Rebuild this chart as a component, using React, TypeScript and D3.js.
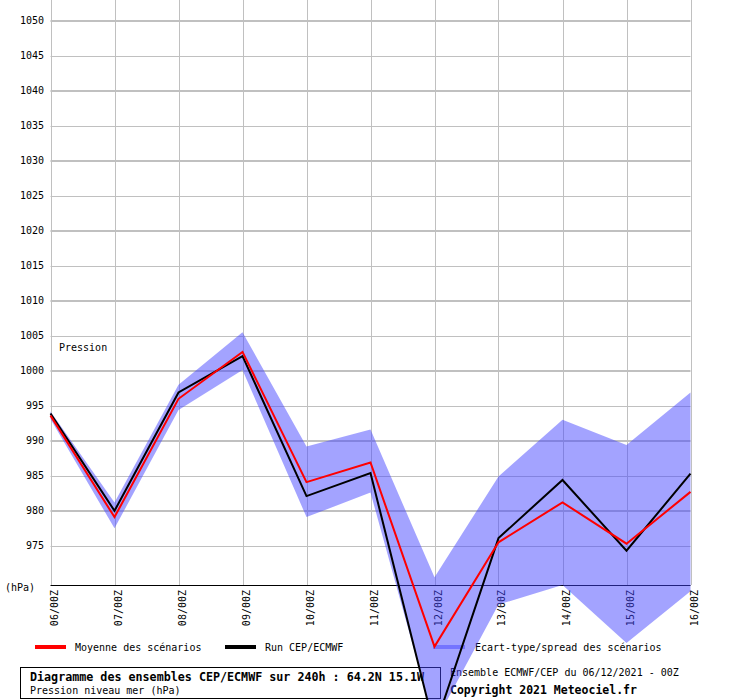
import React from "react";
import * as d3 from "d3";

const days = ["06/00Z", "07/00Z", "08/00Z", "09/00Z", "10/00Z", "11/00Z", "12/00Z", "13/00Z", "14/00Z", "15/00Z", "16/00Z"];
const meanValues = [993.6, 979.1, 996.0, 1002.7, 984.1, 986.9, 960.6, 975.5, 981.2, 975.3, 982.7];
const runValues = [993.9, 980.0, 996.9, 1002.1, 982.1, 985.4, 948.9, 976.1, 984.4, 974.3, 985.3];
const spreadUpper = [994.2, 981.2, 998.0, 1005.5, 989.2, 991.6, 970.5, 984.9, 993.0, 989.4, 996.9];
const spreadLower = [993.1, 977.5, 994.4, 1000.1, 979.1, 982.6, 949.6, 966.6, 969.4, 961.1, 968.5];
const yTicks = [975, 980, 985, 990, 995, 1000, 1005, 1010, 1015, 1020, 1025, 1030, 1035, 1040, 1045, 1050];

const FONT = "'DejaVu Sans Mono', 'Liberation Mono', monospace";

export default function App() {
  const x = d3.scaleLinear().domain([0, days.length - 1]).range([50.5, 690.5]);
  const y = d3.scaleLinear().domain([969.4, 1050]).range([585, 20.8]);
  const idx = days.map((_, i) => i);

  const lineGen = d3
    .line<number>()
    .x((_, i) => x(i))
    .y((d) => y(d));
  const areaGen = d3
    .area<number>()
    .x((i) => x(i))
    .y0((i) => y(spreadLower[i]))
    .y1((i) => y(spreadUpper[i]));

  return (
    <svg
      width={740}
      height={700}
      style={{ position: "absolute", left: 0, top: 0, background: "#fff" }}
      fontFamily={FONT}
    >
      <rect x={0} y={0} width={740} height={700} fill="#fff" />
      {/* horizontal grid */}
      {yTicks.map((v) => (
        <line
          key={"h" + v}
          x1={x(0)}
          x2={x(days.length - 1)}
          y1={Math.round(y(v)) + (v % 10 === 0 ? 0 : 0.5)}
          y2={Math.round(y(v)) + (v % 10 === 0 ? 0 : 0.5)}
          stroke="#c0c0c0"
          strokeWidth={v % 10 === 0 ? 2 : 1}
        />
      ))}
      {/* vertical grid */}
      {idx.map((i) => (
        <line
          key={"v" + i}
          x1={Math.round(x(i)) + 0.5}
          x2={Math.round(x(i)) + 0.5}
          y1={0}
          y2={585}
          stroke="#c0c0c0"
          strokeWidth={1}
        />
      ))}
      {/* axis */}
      <line x1={x(0)} x2={x(days.length - 1)} y1={585.5} y2={585.5} stroke="#000" strokeWidth={1} />
      {/* y labels */}
      {yTicks.map((v) => (
        <text key={"t" + v} x={44} y={y(v) + 3.5} fontSize={10} textAnchor="end" fill="#000">
          {v}
        </text>
      ))}
      <text x={5} y={591} fontSize={10} fill="#000">(hPa)</text>
      <text x={59} y={351} fontSize={10} fill="#000">Pression</text>
      {/* x labels */}
      {days.map((d, i) => (
        <text
          key={"x" + d}
          transform={`translate(${Math.round(x(i)) + 7},590) rotate(-90)`}
          fontSize={10}
          textAnchor="end"
          fill="#000"
        >
          {d}
        </text>
      ))}
      {/* legend */}
      <line x1={35} x2={66} y1={647} y2={647} stroke="#ff0000" strokeWidth={4} />
      <text x={75} y={651} fontSize={10} fill="#000">Moyenne des scénarios</text>
      <line x1={225} x2={256} y1={647} y2={647} stroke="#000" strokeWidth={4} />
      <text x={265} y={651} fontSize={10} fill="#000">Run CEP/ECMWF</text>
      <text x={475} y={651} fontSize={10} fill="#000">Ecart-type/spread des scénarios</text>
      {/* title box */}
      <rect x={20.5} y={667.5} width={420} height={31} fill="#fff" stroke="#000" strokeWidth={1} />
      <text x={30} y={681} fontSize={11.7} fontWeight="bold" fill="#000">
        Diagramme des ensembles CEP/ECMWF sur 240h : 64.2N 15.1W
      </text>
      <text x={30} y={694} fontSize={10} fill="#000">Pression niveau mer (hPa)</text>
      <text x={450} y={676} fontSize={10} fill="#000">Ensemble ECMWF/CEP du 06/12/2021 - 00Z</text>
      <text x={450} y={694} fontSize={11.5} fontWeight="bold" fill="#000">Copyright 2021 Meteociel.fr</text>
      {/* spread band */}
      <path d={areaGen(idx) || ""} fill="#4444ff" fillOpacity={0.49} />
      <line x1={433} x2={465} y1={647} y2={647} stroke="#4444ff" strokeOpacity={0.49} strokeWidth={4} />
      {/* lines */}
      <path d={lineGen(runValues) || ""} fill="none" stroke="#000" strokeWidth={2} />
      <path d={lineGen(meanValues) || ""} fill="none" stroke="#ff0000" strokeWidth={2} />
    </svg>
  );
}
